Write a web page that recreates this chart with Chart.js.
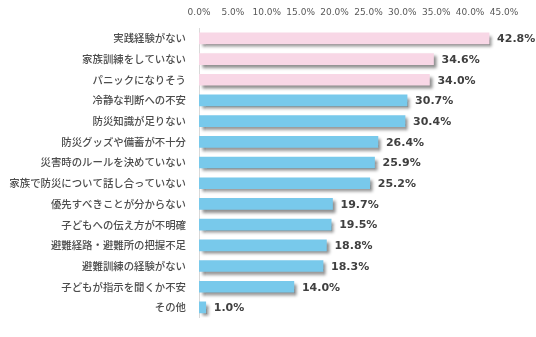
<!DOCTYPE html>
<html>
<head>
<meta charset="utf-8">
<script src="https://cdn.jsdelivr.net/npm/chart.js@4/dist/chart.umd.min.js"></script>
<style>
  html, body { margin: 0; padding: 0; background: #fff; }
  #wrap { width: 536px; height: 337px; }
</style>
</head>
<body>
<div id="wrap"><canvas id="chart" width="536" height="337"></canvas></div>
<script>
// データ
const categories = [
  "実践経験がない",
  "家族訓練をしていない",
  "パニックになりそう",
  "冷静な判断への不安",
  "防災知識が足りない",
  "防災グッズや備蓄が不十分",
  "災害時のルールを決めていない",
  "家族で防災について話し合っていない",
  "優先すべきことが分からない",
  "子どもへの伝え方が不明確",
  "避難経路・避難所の把握不足",
  "避難訓練の経験がない",
  "子どもが指示を聞くか不安",
  "その他"
];
const values = [42.8, 34.6, 34.0, 30.7, 30.4, 26.4, 25.9, 25.2, 19.7, 19.5, 18.8, 18.3, 14.0, 1.0];
const highlightCount = 3; // 上位3つはピンク
const xTicks = [0, 5, 10, 15, 20, 25, 30, 35, 40, 45];

const pink = "#f8d7e6";
const blue = "#78c9eb";
const barColors = values.map((v, i) => i < highlightCount ? pink : blue);

// 影
const shadowPlugin = {
  id: "barShadow",
  beforeDatasetsDraw(chart) {
    const c = chart.ctx;
    c.save();
    c.shadowColor = "rgba(0,0,0,0.45)";
    c.shadowOffsetX = 3;
    c.shadowOffsetY = 3;
    c.shadowBlur = 3;
  },
  afterDatasetsDraw(chart) {
    chart.ctx.restore();
  }
};

// 値ラベル
const valueLabels = {
  id: "valueLabels",
  afterDraw(chart) {
    const c = chart.ctx;
    const meta = chart.getDatasetMeta(0);
    c.save();
    c.font = "bold 11px 'DejaVu Sans', Verdana, sans-serif";
    c.fillStyle = "#404040";
    c.textAlign = "left";
    c.textBaseline = "middle";
    meta.data.forEach((bar, i) => {
      c.fillText(values[i].toFixed(1) + "%", bar.x + 8, bar.y + 1);
    });
    c.restore();
  }
};

const ctx = document.getElementById("chart");
new Chart(ctx, {
  type: "bar",
  data: {
    labels: categories,
    datasets: [{
      data: values,
      backgroundColor: barColors,
      borderWidth: 0,
      barThickness: 11
    }]
  },
  options: {
    indexAxis: "y",
    responsive: false,
    animation: false,
    events: [],
    layout: { padding: { left: 0, right: 32, top: 0, bottom: 17 } },
    plugins: {
      legend: { display: false },
      tooltip: { enabled: false }
    },
    scales: {
      x: {
        position: "top",
        min: 0,
        max: 45,
        afterBuildTicks(scale) {
          scale.ticks = xTicks.map(v => ({ value: v }));
        },
        afterFit(scale) { scale.height = 28; },
        grid: { display: false, drawTicks: false },
        border: { display: false },
        ticks: {
          padding: 10,
          maxRotation: 0,
          minRotation: 0,
          autoSkip: false,
          color: "#595959",
          font: { family: "'DejaVu Sans', Verdana, sans-serif", size: 9 },
          callback: v => v.toFixed(1) + "%"
        }
      },
      y: {
        afterFit(scale) { scale.width = 199; },
        grid: { display: false, drawTicks: false },
        border: { display: true, color: "#d9d9d9", width: 1 },
        ticks: {
          padding: 13,
          color: "#4d4d4d",
          font: { family: "'Noto Sans CJK JP', sans-serif", size: 10.4, weight: "500" }
        }
      }
    }
  },
  plugins: [shadowPlugin, valueLabels]
});
</script>
</body>
</html>
